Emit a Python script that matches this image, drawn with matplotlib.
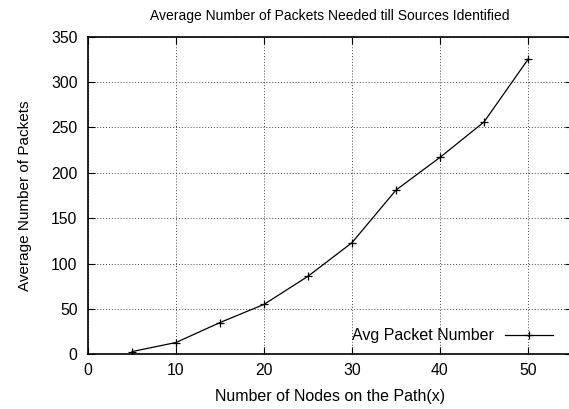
import matplotlib.pyplot as plt

plt.rcParams['font.family'] = ['Liberation Sans', 'DejaVu Sans']

nodes = [5, 10, 15, 20, 25, 30, 35, 40, 45, 50]
avg_packets = [3, 13, 35, 55, 86, 123, 181, 217, 256, 325]
x_ticks = [0, 10, 20, 30, 40, 50]
y_ticks = [0, 50, 100, 150, 200, 250, 300, 350]


def main():
    fig = plt.figure(figsize=(5.69, 4.09), dpi=100)
    W, H = 569, 409
    ax = fig.add_axes([88 / W, (H - 354.3) / H, 484 / W, 317.6 / H])

    ax.plot(nodes, avg_packets, color='black', linewidth=0.9,
            marker='+', markersize=6, markeredgewidth=0.9,
            label='Avg Packet Number')

    ax.set_xlim(0, 55)
    ax.set_ylim(0, 350)
    ax.set_xticks(x_ticks)
    ax.set_yticks(y_ticks)
    ax.tick_params(direction='in', top=True, right=True, length=5,
                   width=0.8, labelsize=11.3)
    ax.tick_params(axis='y', pad=7.5)
    ax.tick_params(axis='x', pad=6)
    ax.grid(True, color='#444444', linestyle=(0, (1, 2)), linewidth=0.7)
    for s in ax.spines.values():
        s.set_linewidth(1.2)

    ax.set_title('Average Number of Packets Needed till Sources Identified',
                 fontsize=10, pad=12)
    ax.set_xlabel('Number of Nodes on the Path(x)', fontsize=11.5, labelpad=8)
    ax.set_ylabel('Average Number of Packets', fontsize=11, labelpad=14)

    ax.legend(loc='lower right', frameon=False, fontsize=11.5,
              markerfirst=False, handlelength=3.0, handletextpad=0.7,
              bbox_to_anchor=(0.99, -0.01))

    fig.savefig('out.png', dpi=100)


if __name__ == '__main__':
    main()
